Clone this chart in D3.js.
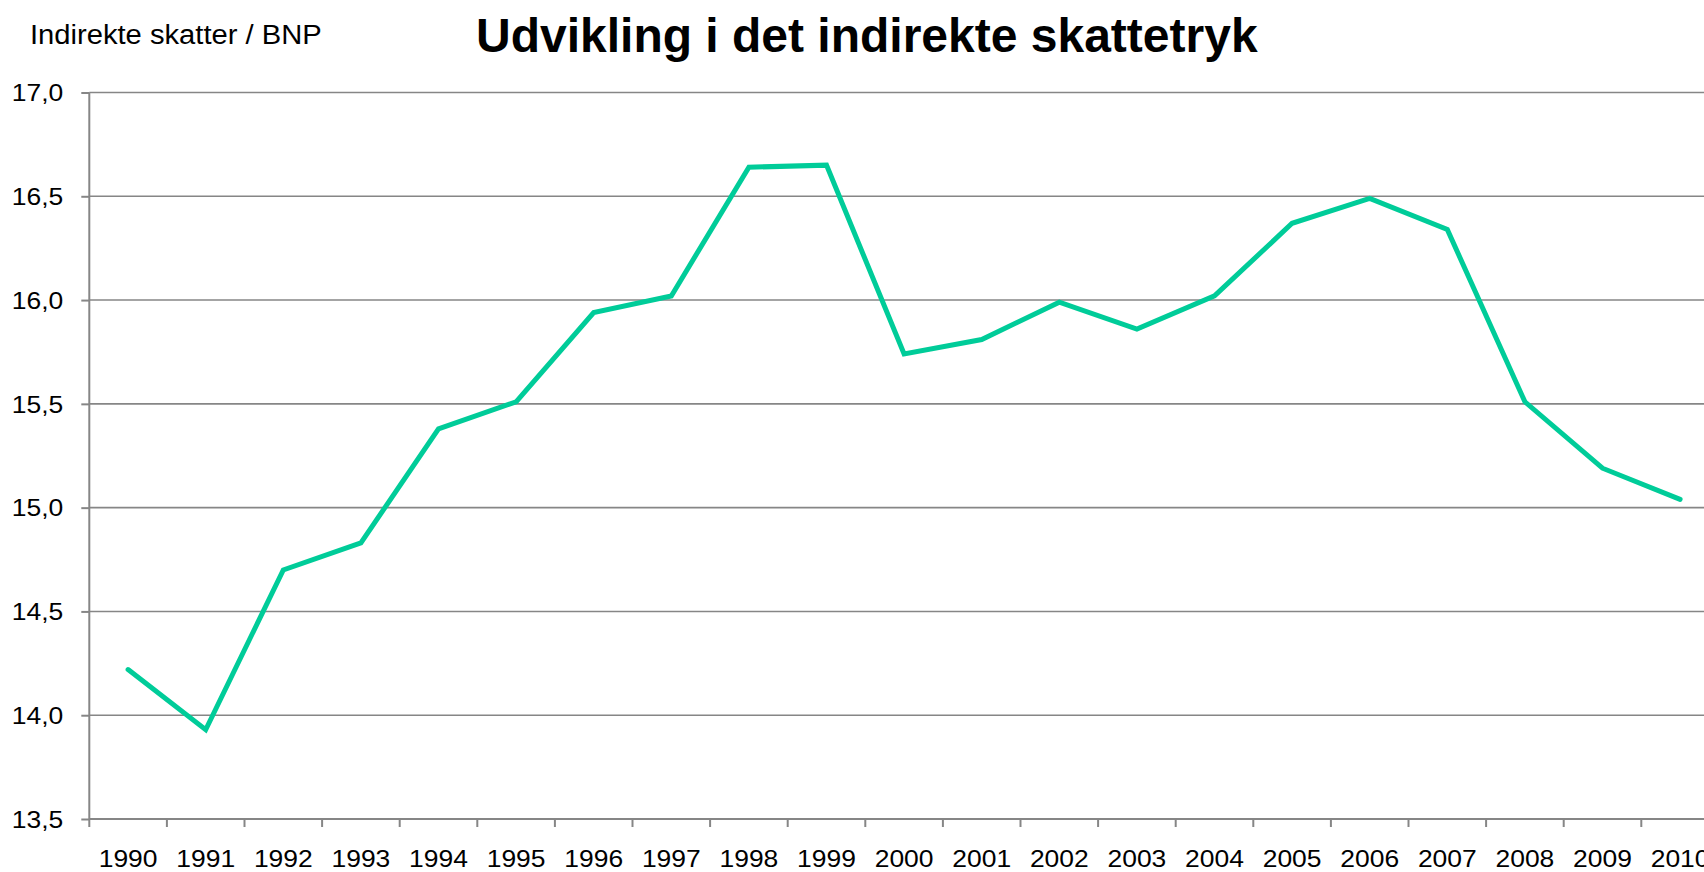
<!DOCTYPE html>
<html>
<head>
<meta charset="utf-8">
<script src="https://cdn.jsdelivr.net/npm/d3@7"></script>
<style>
  html, body { margin: 0; padding: 0; background: #fff; overflow: hidden; }
  svg { display: block; }
  text { font-family: "Liberation Sans", Arial, sans-serif; fill: #000; }
</style>
</head>
<body>
<svg id="chart" width="1704" height="872"></svg>
<script>
// ---- data ----
const years = ["1990","1991","1992","1993","1994","1995","1996","1997","1998","1999","2000",
               "2001","2002","2003","2004","2005","2006","2007","2008","2009","2010"];
const values = [14.22, 13.93, 14.70, 14.83, 15.38, 15.51, 15.94, 16.02, 16.64, 16.65, 15.74,
                15.81, 15.99, 15.86, 16.02, 16.37, 16.49, 16.34, 15.51, 15.19, 15.04];
const yTicks = [13.5, 14.0, 14.5, 15.0, 15.5, 16.0, 16.5, 17.0];
const titleText = "Udvikling i det indirekte skattetryk";
const yLabelText = "Indirekte skatter / BNP";

(function () {
  // ---- layout ----
  const W = 1704;
  const plotLeft = 89.3, plotTop = 92.5, plotBottom = 819;
  const step = 77.6;
  const plotRight = plotLeft + step * years.length;   // extends past the right edge (clipped)
  const textSX = 1.15;                                 // horizontally stretched chart text

  const svg = d3.select("#chart");

  const x = d3.scaleBand().domain(years).range([plotLeft, plotRight]).padding(0);
  const y = d3.scaleLinear().domain([13.5, 17]).range([plotBottom, plotTop]);
  const loc = d3.formatLocale({decimal: ",", thousands: ".", grouping: [3], currency: ["", " kr"]});
  const fmt = loc.format(".1f");

  const gridColor = "#868686";

  // gridlines
  svg.append("g").selectAll("line").data(yTicks.filter(t => t > 13.5)).join("line")
    .attr("x1", plotLeft).attr("x2", W + 20)
    .attr("y1", d => y(d)).attr("y2", d => y(d))
    .attr("stroke", gridColor).attr("stroke-width", 1.6);

  // y axis
  const yAxis = svg.append("g").attr("transform", `translate(${plotLeft},0)`)
    .call(d3.axisLeft(y).tickValues(yTicks).tickFormat(fmt).tickSize(8).tickPadding(0));
  yAxis.select(".domain").attr("stroke", gridColor).attr("stroke-width", 2)
    .attr("d", `M0,${plotTop}V${plotBottom + 8}`);
  yAxis.selectAll(".tick line").attr("stroke", gridColor).attr("stroke-width", 2);
  yAxis.selectAll(".tick text")
    .attr("x", 0).attr("dy", "0.36em")
    .attr("text-anchor", "end")
    .attr("transform", `translate(-26,0) scale(${textSX},1)`)
    .style("font-size", "23px").style("font-family", '"Liberation Sans", Arial, sans-serif')
    .attr("fill", "#000");

  // x axis baseline
  svg.append("line").attr("x1", plotLeft).attr("x2", W + 20)
    .attr("y1", plotBottom).attr("y2", plotBottom)
    .attr("stroke", gridColor).attr("stroke-width", 2);

  // x axis tick marks at category boundaries
  svg.append("g").selectAll("line").data(years.slice(1)).join("line")
    .attr("x1", d => x(d)).attr("x2", d => x(d))
    .attr("y1", plotBottom).attr("y2", plotBottom + 8)
    .attr("stroke", gridColor).attr("stroke-width", 2);

  // x labels
  svg.append("g").selectAll("text").data(years).join("text")
    .attr("transform", d => `translate(${x(d) + x.bandwidth() / 2},867) scale(${textSX},1)`)
    .attr("text-anchor", "middle")
    .style("font-size", "23px")
    .text(d => d);

  // line
  const line = d3.line()
    .x((d, i) => x(years[i]) + x.bandwidth() / 2)
    .y(d => y(d));
  svg.append("path").datum(values)
    .attr("d", line)
    .attr("fill", "none")
    .attr("stroke", "#00cc99")
    .attr("stroke-width", 5)
    .attr("stroke-linejoin", "miter")
    .attr("stroke-linecap", "round");

  // title
  svg.append("text").attr("x", 476).attr("y", 52)
    .style("font-size", "48px").style("font-weight", "bold")
    .text(titleText);

  // y label
  svg.append("text")
    .attr("transform", `translate(30,44) scale(1.08,1)`)
    .style("font-size", "27px")
    .text(yLabelText);
})();
</script>
</body>
</html>
